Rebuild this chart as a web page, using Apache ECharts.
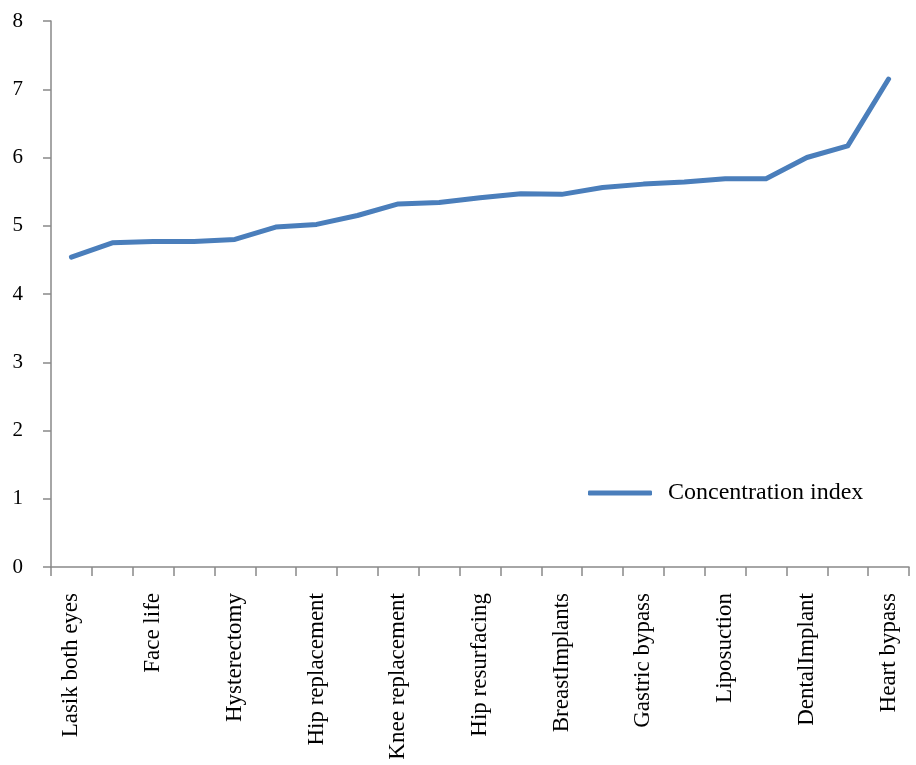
<!DOCTYPE html>
<html>
<head>
<meta charset="utf-8">
<script src="https://cdn.jsdelivr.net/npm/echarts@6/dist/echarts.min.js"></script>
<style>
  html, body { margin: 0; padding: 0; background: #fff; }
  #chart { width: 916px; height: 765px; }
</style>
</head>
<body>
<div id="chart"></div>
<script>
// Procedures ordered by concentration index; every other name is labelled on the axis.
const categories = [
  'Lasik both eyes', '', 'Face life', '', 'Hysterectomy', '',
  'Hip replacement', '', 'Knee replacement', '', 'Hip resurfacing', '',
  'BreastImplants', '', 'Gastric bypass', '', 'Liposuction', '',
  'DentalImplant', '', 'Heart bypass'
];
const concentrationIndex = [
  4.54, 4.75, 4.77, 4.77, 4.80, 4.98, 5.02, 5.15, 5.32, 5.34, 5.41,
  5.47, 5.46, 5.56, 5.61, 5.64, 5.69, 5.69, 6.00, 6.17, 7.15
];
const yTicks = { min: 0, max: 8, step: 1 };
const seriesName = 'Concentration index';

const font = 'Liberation Serif';
const axisGrey = '#898989';
const lineBlue = '#4A7EBB';

const chart = echarts.init(document.getElementById('chart'));
chart.setOption({
  animation: false,
  backgroundColor: '#fff',
  grid: { left: 51, right: 7, top: 21, bottom: 198, containLabel: false },
  legend: {
    left: 588, top: 481, padding: 0,
    itemWidth: 64, itemHeight: 5, itemGap: 10,
    icon: 'roundRect',
    textStyle: { fontFamily: font, fontSize: 24, color: '#000', padding: [0, 0, 0, 11] },
    data: [{ name: seriesName, itemStyle: { color: lineBlue } }]
  },
  xAxis: {
    type: 'category',
    data: categories,
    boundaryGap: true,
    axisLine: { lineStyle: { color: axisGrey, width: 1.5 } },
    axisTick: { show: true, interval: 0, length: 9, lineStyle: { color: axisGrey, width: 1.5 } },
    axisLabel: {
      interval: 1, rotate: 90, margin: 26,
      fontFamily: font, fontSize: 23, color: '#000'
    },
    splitLine: { show: false }
  },
  yAxis: {
    type: 'value',
    min: yTicks.min, max: yTicks.max, interval: yTicks.step,
    axisLine: { show: true, lineStyle: { color: axisGrey, width: 1.5 } },
    axisTick: { show: true, length: 8, lineStyle: { color: axisGrey, width: 1.5 } },
    axisLabel: { margin: 28, fontFamily: font, fontSize: 21, color: '#000' },
    splitLine: { show: false }
  },
  series: [{
    name: seriesName,
    type: 'line',
    data: concentrationIndex,
    showSymbol: false,
    symbol: 'none',
    lineStyle: { color: lineBlue, width: 5, cap: 'round', join: 'round' },
    itemStyle: { color: lineBlue }
  }]
});
</script>
</body>
</html>
